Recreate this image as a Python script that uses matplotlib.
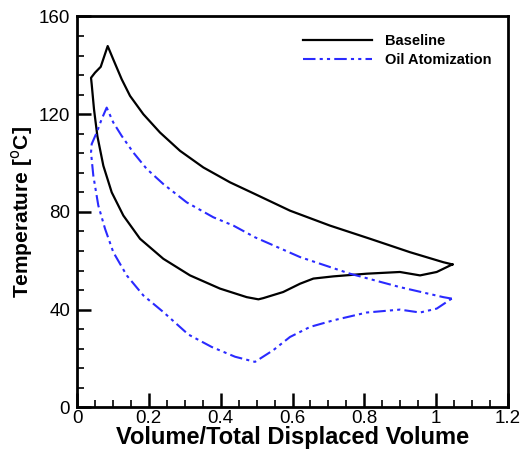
import matplotlib
matplotlib.use("Agg")
import matplotlib.pyplot as plt
from matplotlib.ticker import MultipleLocator

plt.rcParams['font.family'] = ['Liberation Sans', 'DejaVu Sans']

# Baseline loop (closed), ordered
base_x = [1.045, 1.0198, 0.927, 0.8157, 0.704, 0.593, 0.4955, 0.426, 0.3517, 0.2868, 0.231,
          0.1846, 0.1476, 0.1244, 0.101, 0.0854, 0.066, 0.0501, 0.039, 0.0409, 0.0473,
          0.0566, 0.0733, 0.0966, 0.129, 0.1754, 0.2403, 0.3146, 0.398, 0.4724, 0.505,
          0.5187, 0.574, 0.621, 0.658, 0.7136, 0.8065, 0.899, 0.955, 1.0014, 1.045]
base_y = [58.5, 59.4, 63.5, 69.0, 74.4, 80.5, 87.3, 92.1, 98.2, 105.0, 112.5,
          120.0, 127.5, 134.3, 142.4, 147.9, 139.4, 137.0, 134.9, 132.2, 122.0,
          111.1, 98.9, 88.0, 78.5, 69.0, 60.8, 54.0, 48.6, 45.1, 44.2,
          44.7, 47.2, 50.6, 52.7, 53.6, 54.7, 55.4, 54.0, 55.4, 58.5]

# Oil Atomization loop (closed), ordered
oil_x = [1.0432, 1.0198, 0.899, 0.76, 0.621, 0.4955, 0.4352, 0.3795, 0.3054, 0.2403, 0.194,
         0.1568, 0.1244, 0.101, 0.0826, 0.0687, 0.0548, 0.0409, 0.039, 0.0454, 0.0593,
         0.078, 0.101, 0.1384, 0.1846, 0.2403, 0.31, 0.375, 0.44, 0.4955, 0.5465,
         0.593, 0.6487, 0.7136, 0.8065, 0.899, 0.955, 1.0014, 1.0432]
oil_y = [44.5, 45.1, 49.2, 54.7, 61.5, 69.6, 74.4, 77.8, 83.9, 91.4, 97.6,
         104.3, 111.1, 116.6, 122.7, 118.0, 112.5, 107.8, 104.3, 94.8, 82.6,
         73.1, 63.5, 54.0, 45.8, 39.0, 29.8, 24.7, 20.7, 18.6, 23.4,
         28.8, 32.9, 35.6, 38.8, 40.0, 38.8, 40.4, 44.5]

fig = plt.figure(figsize=(5.25, 4.58), dpi=100)
ax = fig.add_axes([0.1467, 0.1107, 0.821, 0.8533])

ax.plot(base_x, base_y, color='black', lw=1.6, label='Baseline', solid_joinstyle='round')
ax.plot(oil_x, oil_y, color='#2a2aff', lw=1.5, linestyle=(0, (6, 2, 1.5, 2, 1.5, 2)),
        label='Oil Atomization')

ax.set_xlim(0, 1.2)
ax.set_ylim(0, 160)
ax.xaxis.set_minor_locator(MultipleLocator(0.05))
ax.yaxis.set_major_locator(MultipleLocator(40))
ax.yaxis.set_minor_locator(MultipleLocator(8))
ax.set_xticks([0, 0.2, 0.4, 0.6, 0.8, 1.0, 1.2])
ax.set_xticklabels(['0', '0.2', '0.4', '0.6', '0.8', '1', '1.2'])
ax.tick_params(which='major', direction='in', length=10, width=1.8, labelsize=13.5)
ax.tick_params(axis='x', which='major', pad=2)
ax.tick_params(axis='y', which='major', pad=5)
ax.tick_params(which='minor', direction='in', length=5, width=1.2)
for s in ax.spines.values():
    s.set_linewidth(2)

ax.set_xlabel('Volume/Total Displaced Volume', fontsize=17, fontweight='bold', labelpad=-1)
ax.set_ylabel('Temperature [$^{\\rm o}$C]', fontsize=15, fontweight='bold', labelpad=3)

leg = ax.legend(loc='upper left', frameon=False, prop={'weight': 'bold', 'size': 10.5},
                handlelength=4.7, handletextpad=0.9, borderpad=0, borderaxespad=0,
                bbox_to_anchor=(303 / 525, 1 - 34 / 458), bbox_transform=fig.transFigure,
                labelspacing=0.35)

fig.savefig('out.png', dpi=100)
